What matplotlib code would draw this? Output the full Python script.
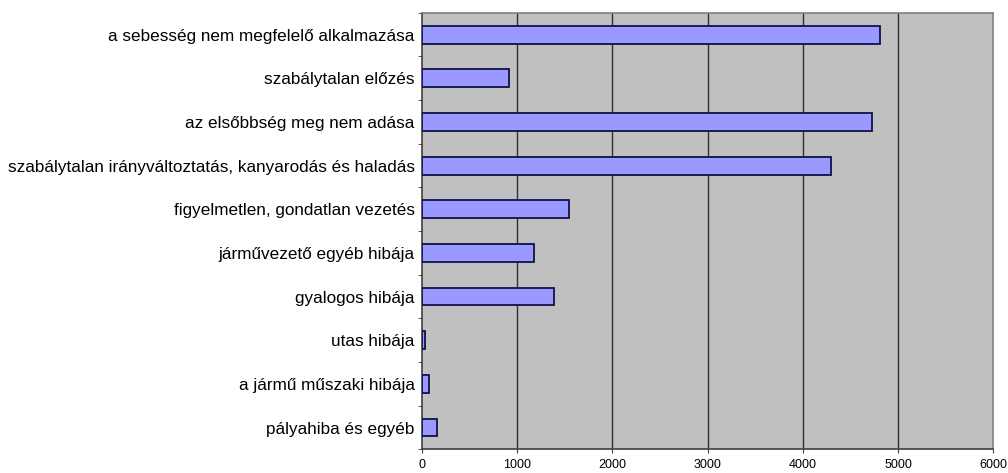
import matplotlib.pyplot as plt
import numpy as np

plt.rcParams['font.family'] = ['Liberation Sans', 'DejaVu Sans']

categories = [
    "a sebesség nem megfelelő alkalmazása",
    "szabálytalan előzés",
    "az elsőbbség meg nem adása",
    "szabálytalan irányváltoztatás, kanyarodás és haladás",
    "figyelmetlen, gondatlan vezetés",
    "járművezető egyéb hibája",
    "gyalogos hibája",
    "utas hibája",
    "a jármű műszaki hibája",
    "pályahiba és egyéb",
]
values = [4810, 920, 4725, 4300, 1545, 1180, 1385, 35, 77, 155]
xticks = [0, 1000, 2000, 3000, 4000, 5000, 6000]

fig = plt.figure(figsize=(10.08, 4.73), dpi=100)
ax = fig.add_axes([0.4184, 0.050, 0.567, 0.923])
ax.set_facecolor('#c0c0c0')

y = np.arange(len(categories))
ax.barh(y, values, height=0.41, color='#9999ff', edgecolor='#10104a', linewidth=1.3, zorder=3)

ax.set_xlim(0, 6000)
ax.set_ylim(len(categories) - 0.5, -0.5)
ax.set_xticks(xticks)
ax.set_xticklabels([str(t) for t in xticks], fontsize=9)
ax.set_yticks(y)
ax.set_yticklabels(categories, fontsize=12.3)
ax.set_yticks(np.arange(-0.5, len(categories)), minor=True)
ax.tick_params(axis='y', which='major', length=0, pad=5)
ax.tick_params(axis='y', which='minor', length=3, direction='out', color='#404040')
ax.tick_params(axis='x', length=3, direction='out', color='#404040', pad=4)

for t in xticks[1:-1]:
    ax.axvline(t, color='#303030', linewidth=1, zorder=1)

for side in ['top', 'right']:
    ax.spines[side].set_color('#808080')
    ax.spines[side].set_linewidth(1.2)
for side in ['left', 'bottom']:
    ax.spines[side].set_color('#404040')
    ax.spines[side].set_linewidth(1.2)

fig.savefig('out.png', dpi=100)
